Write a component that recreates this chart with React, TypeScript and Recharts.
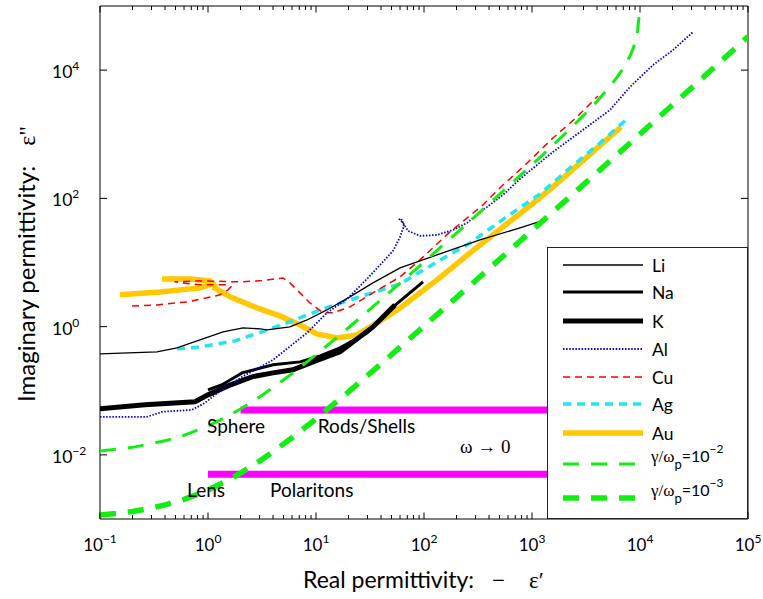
import React from 'react';
import { LineChart, Line, XAxis, YAxis, ReferenceArea, ReferenceDot, Legend } from 'recharts';

const W = 763;
const H = 599;
const PLOT = { left: 100, right: 748, top: 6, bottom: 519 };
const FONT = 'Lato, "Open Sans", "Liberation Sans", sans-serif';
const SERIF = '"Liberation Serif", "DejaVu Serif", serif';

const xMajorTicks = [0.1, 1, 10, 100, 1000, 10000, 100000];
const xTickExponents = ['−1', '0', '1', '2', '3', '4', '5'];
const yMajorTicks = [0.01, 1, 100, 10000];
const yTickExponents = ['−2', '0', '2', '4'];
const minorMultipliers = [2, 3, 4, 5, 6, 7, 8, 9];
const xAllTicks = [
  ...xMajorTicks,
  ...xMajorTicks.slice(0, -1).flatMap((d) => minorMultipliers.map((m) => d * m)),
].sort((a, b) => a - b);

const li = [[0.1,0.376],[0.337,0.404],[0.516,0.466],[0.843,0.621],[1.38,0.828],[2.11,0.957],[3.03,0.923],[3.52,0.89],[5.74,0.99],[8.26,1.27],[12.6,1.82],[20.6,2.91],[33.7,4.81],[60,8.24],[132,13.1],[330,22.5],[774,34.6],[1406,47.9]];
const na = [[1.0,0.103],[1.35,0.124],[2.07,0.19],[4.0,0.254],[7.11,0.282],[10.9,0.35],[16.7,0.466],[29.7,0.8],[51.7,2.03],[98,4.99]];
const k = [[0.1,0.0522],[0.261,0.0603],[0.759,0.0672],[1.0,0.0863],[1.53,0.119],[2.55,0.165],[4.0,0.19],[6.12,0.212],[9.38,0.282],[16.7,0.404],[33.7,0.99],[53.8,2.18]];
const al = [[0.1,0.0392],[0.272,0.0392],[0.375,0.0469],[0.711,0.0504],[0.938,0.0648],[1.16,0.0863],[2.07,0.165],[4.0,0.303],[8.26,0.8],[12.6,1.64],[19.4,2.71],[29.7,5.55],[39.2,9.18],[51.7,15.2],[60,25],[65.3,37.2],[62.5,46.1],[58.7,47.8],[64,41.5],[71.1,31.1],[91.9,26],[132,26.9],[186,32.2],[250,41.4],[352,66],[539,113],[774,201],[1563,530],[3228,1300],[5272,2393],[8073,5463],[13180,12020],[20230,20600],[30970,39400]];
const cu = [[0.198,2.1],[0.337,2.18],[0.64,2.43],[0.98,2.81],[1.29,3.13],[1.53,3.74],[1.63,4.17],[1.44,4.48],[0.94,4.48],[0.68,4.64],[0.49,4.99],[0.84,5.17],[1.98,4.99],[3.03,5.17],[4.94,5.75],[5.74,4.81],[7.11,3.36],[8.8,2.34],[11.6,1.64],[14.4,1.64],[20.6,2.03],[33.7,3.36],[60,5.97],[91.9,11],[174,30],[352,79],[539,162],[826,309],[1565,875],[2610,1862],[4087,3954]];
const ag = [[0.516,0.45],[0.843,0.483],[1.78,0.6],[3.16,0.83],[5.74,1.19],[10.9,1.82],[20.6,2.61],[35.2,3.48],[60,4.64],[132,10.2],[267,20.2],[562,49.6],[1186,117],[2248,299],[4266,731],[7745,1795]];
const auInterband = [[0.153,3.13],[0.36,3.48],[0.843,4.02],[1.11,4.64],[1.04,5.17],[0.68,5.55],[0.375,5.55]];
const auDrude = [[1.11,4.17],[1.6,2.91],[2.84,1.96],[4.64,1.47],[7.11,1.06],[10.2,0.77],[15.6,0.668],[24,0.743],[39.2,1.23],[60,1.96],[132,5.36],[267,14.1],[539,35.9],[957,76.3],[1563,151],[3228,442],[6668,1300]];
const drude2 = [[0.1,0.0115],[0.2,0.0131],[0.4,0.0166],[0.6,0.0202],[1,0.0283],[1.5,0.0395],[2,0.052],[3,0.08],[4,0.112],[6,0.185],[10,0.365],[20,0.96],[50,3.64],[100,10.2],[300,53],[1000,334],[2000,1000],[3000,1965],[4000,3265],[5000,5000],[6000,7350],[7000,10700],[8000,16000],[8600,21300],[9000,27000],[9500,41500],[9800,68800],[9900,99000],[9950,142000]];
const drude3 = [[0.1,0.00115],[0.15,0.00123],[0.2,0.00131],[0.3,0.00148],[0.4,0.00166],[0.6,0.00202],[0.8,0.00242],[1,0.00283],[1.5,0.00395],[2,0.0052],[3,0.008],[4,0.0112],[6,0.0185],[10,0.0365],[20,0.096],[50,0.364],[100,1.02],[300,5.2],[1000,31.7],[3000,164],[10000,1005],[30000,5280],[100000,33300]];
const sphereBand = [[2.0,0.05],[100000,0.05]];
const lensBand = [[1.0,0.005],[100000,0.005]];

const pts = (a: number[][]) => a.map(([x, y]) => ({ x, y }));
const auData = [...pts(auInterband), { x: 1.11, y: null }, ...pts(auDrude)];

type Sty = { name: string; color: string; w: number; dash?: string };
const STY: Record<string, Sty> = {
  li: { name: 'Li', color: '#000000', w: 1.3 },
  na: { name: 'Na', color: '#000000', w: 3 },
  k: { name: 'K', color: '#000000', w: 5 },
  al: { name: 'Al', color: '#0000cc', w: 1.8, dash: '1.5 1.6' },
  cu: { name: 'Cu', color: '#ff0000', w: 1.5, dash: '7 5' },
  ag: { name: 'Ag', color: '#22e5f0', w: 3.5, dash: '8 6' },
  au: { name: 'Au', color: '#ffc800', w: 5.5 },
  g2: { name: 'g2', color: '#11ee11', w: 3, dash: '16 12' },
  g3: { name: 'g3', color: '#11ee11', w: 5.5, dash: '16 12' },
};
const legendOrder = ['li', 'na', 'k', 'al', 'cu', 'ag', 'au', 'g2', 'g3'];
const legendRowY = [17, 44, 73, 101, 129, 156, 185, 216, 250];

const annotations = [
  { text: 'Sphere', x: 0.98, y: 0.0221, serif: false },
  { text: 'Rods/Shells', x: 10.4, y: 0.0221, serif: false },
  { text: 'ω → 0', x: 215, y: 0.01076, serif: true },
  { text: 'Lens', x: 0.64, y: 0.00222, serif: false },
  { text: 'Polaritons', x: 3.75, y: 0.00222, serif: false },
];

function XTick(props: any) {
  const { x, payload } = props;
  const v = payload.value as number;
  const idx = xMajorTicks.findIndex((t) => Math.abs(Math.log10(t) - Math.log10(v)) < 1e-6);
  const major = idx >= 0;
  const len = major ? 6.5 : 4;
  return (
    <g>
      <path d={`M${x},${PLOT.bottom}V${PLOT.bottom - len}`} stroke="#000" strokeWidth={1} fill="none" />
      <path d={`M${x},${PLOT.top}V${PLOT.top + len}`} stroke="#000" strokeWidth={1} fill="none" />
      {major && (
        <text x={x} y={551} textAnchor="middle" fontSize={17} fontFamily={FONT} fill="#000">
          10<tspan dy={-8} fontSize={12}>{xTickExponents[idx]}</tspan>
        </text>
      )}
    </g>
  );
}

function YTick(props: any) {
  const { y, payload } = props;
  const v = payload.value as number;
  const idx = yMajorTicks.findIndex((t) => Math.abs(Math.log10(t) - Math.log10(v)) < 1e-6);
  return (
    <g>
      <path d={`M${PLOT.left},${y}H${PLOT.left + 7}`} stroke="#000" strokeWidth={1} fill="none" />
      <path d={`M${PLOT.right},${y}H${PLOT.right - 7}`} stroke="#000" strokeWidth={1} fill="none" />
      <text x={52} y={y + 8} fontSize={17.5} fontFamily={FONT} fill="#000">
        10<tspan dy={-8} fontSize={12}>{yTickExponents[idx]}</tspan>
      </text>
    </g>
  );
}

function XTitle() {
  return (
    <text x={303} y={588} fontSize={23} fontFamily={FONT} fill="#000">
      Real permittivity:
      <tspan dx={18} fontFamily={SERIF}>−</tspan>
      <tspan dx={24} fontFamily={SERIF}>ε′</tspan>
    </text>
  );
}

function YTitle() {
  return (
    <text transform="translate(35,264) rotate(-90)" textAnchor="middle" fontSize={24} fontFamily={FONT} fill="#000">
      Imaginary permittivity:
      <tspan dx={20} fontFamily={SERIF}>ε"</tspan>
    </text>
  );
}

function AnnLabel(props: any) {
  const vb = props.viewBox || { x: 0, y: 0, width: 0, height: 0 };
  const cx = vb.x + (vb.width || 0) / 2;
  const cy = vb.y + (vb.height || 0) / 2;
  return (
    <text x={cx} y={cy} fontSize={19} fontFamily={props.serif ? SERIF : FONT} fill="#000">
      {props.text}
    </text>
  );
}

function LegendBox() {
  return (
    <div style={{ width: 201, height: 272, background: '#fff', border: '1px solid #222', boxSizing: 'border-box' }}>
      <svg width={199} height={270} style={{ display: 'block' }}>
        {legendOrder.map((key, i) => {
          const s = STY[key];
          const cy = legendRowY[i];
          return (
            <g key={key}>
              <line x1={15} x2={95} y1={cy} y2={cy} stroke={s.color} strokeWidth={s.w} strokeDasharray={s.dash} />
              {key === 'g2' || key === 'g3' ? (
                <text x={103} y={cy - 2} fontSize={16} fontFamily={FONT} fill="#000">
                  <tspan fontFamily={SERIF} fontSize={17}>γ/ω</tspan>
                  <tspan dy={7} fontSize={13}>p</tspan>
                  <tspan dy={-7}>=10</tspan>
                  <tspan dy={-9} fontSize={12}>{key === 'g2' ? '−2' : '−3'}</tspan>
                </text>
              ) : (
                <text x={104} y={cy + 7} fontSize={17.5} fontFamily={FONT} fill="#000">
                  {s.name}
                </text>
              )}
            </g>
          );
        })}
      </svg>
    </div>
  );
}

function series(key: string, data: any[]) {
  const s = STY[key];
  return (
    <Line
      key={key}
      data={data}
      dataKey="y"
      name={s.name}
      type="linear"
      stroke={s.color}
      strokeWidth={s.w}
      strokeDasharray={s.dash}
      dot={false}
      activeDot={false}
      isAnimationActive={false}
      connectNulls={false}
    />
  );
}

export default function App() {
  return (
    <div style={{ width: W, height: H, background: '#fff' }}>
      <style>{'body{margin:0;background:#fff}'}</style>
      <LineChart width={W} height={H} margin={{ top: PLOT.top, right: W - PLOT.right, bottom: 0, left: 0 }}>
        <XAxis
          type="number"
          dataKey="x"
          scale="log"
          domain={[0.1, 100000]}
          allowDataOverflow
          ticks={xAllTicks}
          interval={0}
          tick={(p: any) => <XTick {...p} />}
          tickLine={false}
          axisLine={false}
          height={H - PLOT.bottom}
          label={<XTitle />}
        />
        <YAxis
          type="number"
          scale="log"
          domain={[0.001, 100000]}
          allowDataOverflow
          ticks={yMajorTicks}
          interval={0}
          tick={(p: any) => <YTick {...p} />}
          tickLine={false}
          axisLine={false}
          width={PLOT.left}
          label={<YTitle />}
        />
        <Line data={pts(sphereBand)} dataKey="y" stroke="#ff00ff" strokeWidth={7} dot={false} activeDot={false} isAnimationActive={false} legendType="none" />
        <Line data={pts(lensBand)} dataKey="y" stroke="#ff00ff" strokeWidth={7} dot={false} activeDot={false} isAnimationActive={false} legendType="none" />
        {series('au', auData)}
        {series('ag', pts(ag))}
        {series('cu', pts(cu))}
        {series('k', pts(k))}
        {series('na', pts(na))}
        {series('li', pts(li))}
        {series('al', pts(al))}
        {series('g2', pts(drude2))}
        {series('g3', pts(drude3))}
        <ReferenceArea x1={0.1} x2={100000} y1={0.001} y2={100000} fill="none" stroke="#000" strokeWidth={1} ifOverflow="visible" />
        {annotations.map((a) => (
          <ReferenceDot key={a.text} x={a.x} y={a.y} r={0} fill="none" stroke="none" ifOverflow="visible" label={<AnnLabel text={a.text} serif={a.serif} />} />
        ))}
        <Legend
          content={() => <LegendBox />}
          layout="vertical"
          align="center"
          verticalAlign="middle"
          wrapperStyle={{ position: 'absolute', left: 547, top: 247, width: 201, height: 272 }}
        />
      </LineChart>
    </div>
  );
}
